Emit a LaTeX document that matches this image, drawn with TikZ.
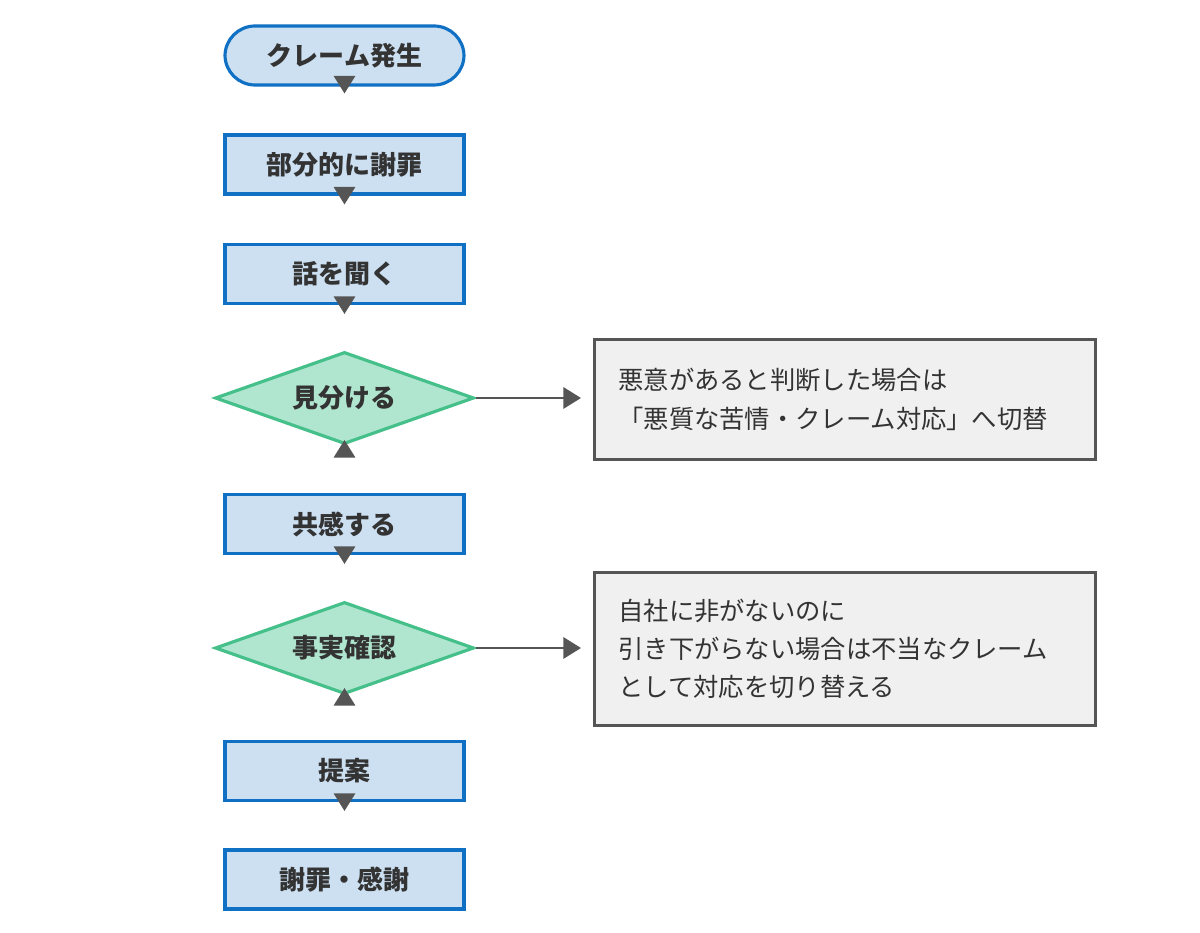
\documentclass[tikz,border=0pt]{standalone}
\usepackage{fontspec}
\setmainfont{Noto Sans CJK JP}
\usetikzlibrary{arrows.meta, positioning, shapes.geometric}
\definecolor{CBlueLine}{HTML}{1070C4}
\definecolor{CBlueFill}{HTML}{CCE0F2}
\definecolor{CGreenLine}{HTML}{45C08A}
\definecolor{CGreenFill}{HTML}{B0E6D0}
\definecolor{CGrayLine}{HTML}{555555}
\definecolor{CGrayFill}{HTML}{F0F0F0}
\definecolor{CText}{HTML}{333333}

\begin{document}
\begin{tikzpicture}[
    every node/.style={text=CText},
    action/.style={draw=CBlueLine, fill=CBlueFill, line width=0.9pt,
        minimum width=2.39cm, minimum height=0.59cm, inner sep=0pt,
        font=\fontsize{7.4pt}{9pt}\selectfont\bfseries},
    start/.style={action, rounded corners=0.3cm},
    check/.style={diamond, aspect=2.8, draw=CGreenLine, fill=CGreenFill, line width=0.9pt,
        minimum width=2.59cm, minimum height=0.92cm, inner sep=0pt,
        font=\fontsize{7.4pt}{9pt}\selectfont\bfseries},
    note/.style={draw=CGrayLine, fill=CGrayFill, line width=0.8pt, anchor=north west,
        text width=4.53cm, inner xsep=0.24cm, align=left,
        font=\fontsize{7.2pt}{10.9pt}\selectfont},
    flow/.style={-{Triangle[length=5pt, width=6pt]}, draw=CGrayLine, line width=0.8pt}
]
    \useasboundingbox (0,0) rectangle (12,-9.33);

    % --- main flow ---
    \node[start] (claim) at (3.445,-0.555) {クレーム発生};
    \node[action] (apology) at (3.445,-1.645) {部分的に謝罪};
    \node[action] (listen) at (3.445,-2.74) {話を聞く};
    \node[check] (judge) at (3.445,-3.98) {見分ける};
    \node[action] (empathy) at (3.445,-5.24) {共感する};
    \node[check] (facts) at (3.445,-6.48) {事実確認};
    \node[action] (offer) at (3.445,-7.71) {提案};
    \node[action] (thanks) at (3.445,-8.795) {謝罪・感謝};

    % --- side notes ---
    \node[note, minimum height=1.2cm] (malice) at (5.93,-3.38)
        {悪意があると判断した場合は\\「悪質な苦情・クレーム対応」へ切替};
    \node[note, minimum height=1.53cm] (unfair) at (5.93,-5.71)
        {自社に非がないのに\\引き下がらない場合は不当なクレーム\\として対応を切り替える};

    % --- connectors ---
    \draw[flow] (claim) -- ++(0,-0.38);
    \draw[flow] (apology) -- ++(0,-0.4);
    \draw[flow] (listen) -- ++(0,-0.4);
    \draw[flow] (judge) -- ++(0,-0.42);
    \draw[flow] (empathy) -- ++(0,-0.4);
    \draw[flow] (facts) -- ++(0,-0.4);
    \draw[flow] (offer) -- ++(0,-0.4);
    \coordinate (maliceIn) at ([xshift=-0.12cm]malice.west |- judge);
    \coordinate (unfairIn) at ([xshift=-0.12cm]unfair.west |- facts);
    \draw[flow] (judge.east) -- (maliceIn);
    \draw[flow] (facts.east) -- (unfairIn);

\end{tikzpicture}
\end{document}
